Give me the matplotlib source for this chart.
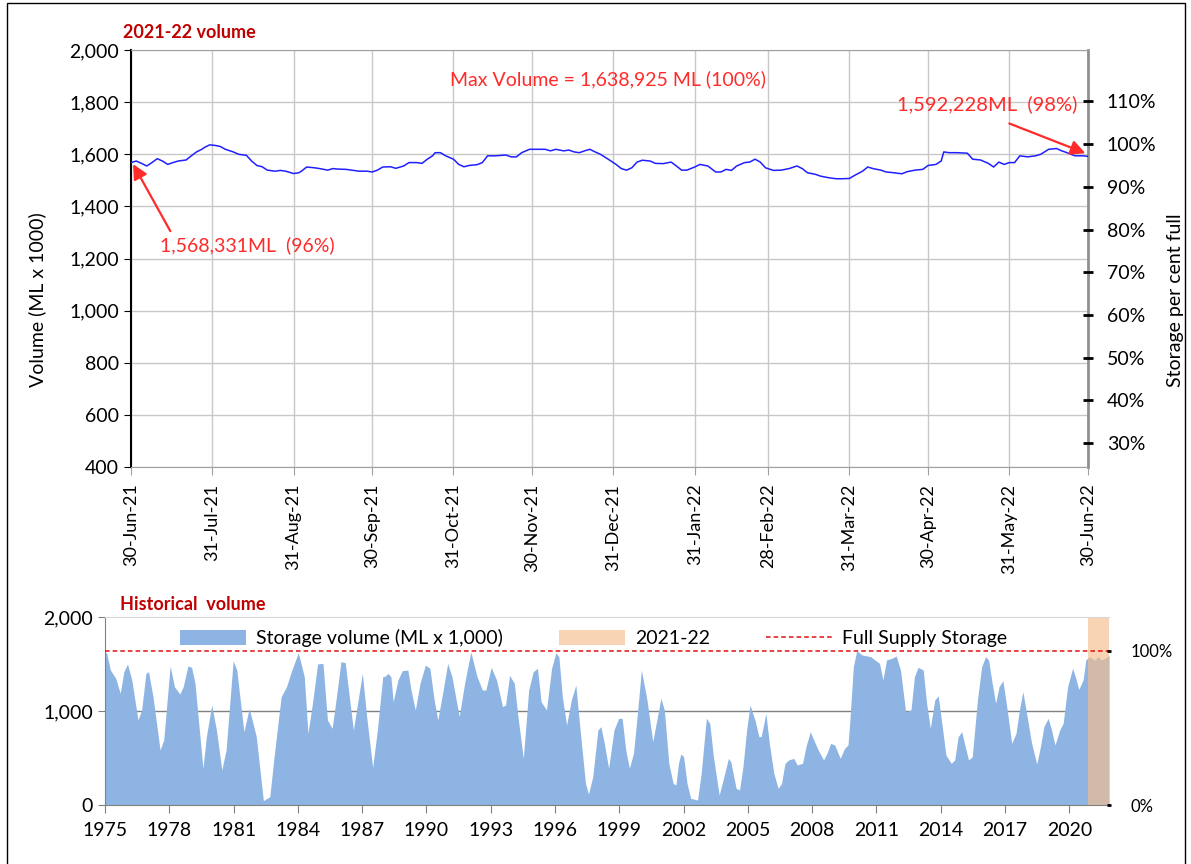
import numpy as np
import pandas as pd
import matplotlib
matplotlib.use('Agg')
import matplotlib.pyplot as plt
from matplotlib.patches import Patch, Rectangle
from matplotlib.lines import Line2D
from matplotlib.ticker import FuncFormatter

plt.rcParams['font.family'] = ['Lato', 'DejaVu Sans']

full_supply = 1638.925  # ML x 1000

# 2021-22 volume, days after 30-Jun-21 (ML x 1000)
day_offset = [0, 2, 4, 6, 8, 10, 12, 14, 16, 18, 21, 23, 25, 27, 28, 30, 32, 34, 36, 39,
              41, 44, 46, 48, 50, 52, 55, 57, 59, 62, 64, 65, 67, 70, 72, 75, 77, 79, 82, 85,
              87, 90, 92, 94, 96, 99, 101, 104, 106, 109, 111, 113, 115, 116, 118, 120, 123, 125, 127, 129,
              132, 134, 136, 139, 143, 145, 147, 149, 152, 155, 158, 160, 162, 165, 167, 169, 171, 173, 175, 177,
              179, 182, 185, 187, 189, 191, 193, 195, 198, 200, 203, 206, 208, 210, 212, 215, 217, 220, 223, 225,
              227, 229, 231, 234, 236, 238, 240, 242, 245, 248, 251, 254, 256, 258, 261, 263, 266, 269, 271, 274,
              276, 279, 281, 283, 286, 288, 291, 294, 296, 299, 302, 304, 307, 309, 310, 312, 315, 319, 321, 324,
              327, 329, 331, 333, 335, 337, 339, 342, 345, 347, 350, 353, 355, 357, 360, 363, 365]
volume_2122 = [1568, 1574, 1565, 1555, 1568, 1583, 1574, 1561, 1568, 1574, 1578, 1594, 1609, 1619, 1626, 1636, 1634, 1630, 1619, 1609,
               1600, 1596, 1574, 1557, 1552, 1539, 1535, 1538, 1535, 1526, 1529, 1535, 1551, 1548, 1545, 1539, 1545, 1543, 1542, 1538,
               1535, 1535, 1532, 1539, 1551, 1552, 1546, 1555, 1568, 1568, 1565, 1581, 1594, 1606, 1606, 1594, 1581, 1561, 1552, 1557,
               1560, 1568, 1594, 1594, 1597, 1590, 1590, 1606, 1619, 1619, 1619, 1613, 1619, 1613, 1616, 1609, 1606, 1613, 1619, 1609,
               1600, 1581, 1561, 1545, 1539, 1548, 1570, 1577, 1574, 1565, 1564, 1570, 1555, 1539, 1539, 1551, 1561, 1555, 1532, 1532,
               1542, 1538, 1555, 1568, 1570, 1581, 1570, 1548, 1538, 1539, 1545, 1555, 1545, 1529, 1523, 1516, 1510, 1506, 1506, 1507,
               1519, 1535, 1551, 1545, 1539, 1532, 1529, 1525, 1533, 1539, 1542, 1557, 1561, 1574, 1609, 1606, 1606, 1604, 1581, 1578,
               1565, 1551, 1570, 1561, 1568, 1568, 1594, 1590, 1594, 1600, 1619, 1622, 1613, 1606, 1594, 1594, 1592]

top_tick_dates = ['2021-06-30', '2021-07-31', '2021-08-31', '2021-09-30', '2021-10-31', '2021-11-30',
                  '2021-12-31', '2022-01-31', '2022-02-28', '2022-03-31', '2022-04-30', '2022-05-31', '2022-06-30']

# historical storage volume (decimal year, ML x 1000)
hist_year = [1975.65, 1975.73, 1975.90, 1976.15, 1976.36, 1976.53, 1976.70, 1976.90, 1977.19, 1977.36,
             1977.56, 1977.68, 1977.89, 1978.22, 1978.39, 1978.69, 1978.89, 1979.14, 1979.30, 1979.52,
             1979.69, 1979.85, 1980.22, 1980.38, 1980.63, 1980.85, 1981.10, 1981.30, 1981.63, 1981.80,
             1982.13, 1982.38, 1982.71, 1983.04, 1983.34, 1983.54, 1983.87, 1984.12, 1984.37, 1984.67,
             1984.95, 1985.12, 1985.33, 1985.57, 1985.82, 1986.03, 1986.25, 1986.45, 1986.66, 1986.86,
             1987.03, 1987.24, 1987.66, 1987.86, 1988.14, 1988.36, 1988.61, 1988.74, 1988.85, 1988.99,
             1989.10, 1989.32, 1989.52, 1989.78, 1989.93, 1990.13, 1990.35, 1990.60, 1990.81, 1991.01,
             1991.18, 1991.43, 1991.64, 1991.84, 1992.18, 1992.43, 1992.72, 1993.01, 1993.26, 1993.42,
             1993.67, 1993.92, 1994.20, 1994.34, 1994.53, 1994.75, 1994.92, 1995.17, 1995.42, 1995.63,
             1995.83, 1996.00, 1996.25, 1996.49, 1996.69, 1996.83, 1996.99, 1997.19, 1997.41, 1997.62,
             1997.82, 1998.07, 1998.21, 1998.41, 1998.65, 1998.79, 1998.95, 1999.15, 1999.40, 1999.62,
             1999.78, 1999.95, 2000.12, 2000.31, 2000.48, 2000.68, 2000.94, 2001.21, 2001.43, 2001.59,
             2001.75, 2001.96, 2002.16, 2002.29, 2002.41, 2002.52, 2002.65, 2002.81, 2002.98, 2003.30,
             2003.47, 2003.71, 2003.87, 2004.04, 2004.31, 2004.53, 2004.74, 2004.85, 2005.10, 2005.26,
             2005.42, 2005.59, 2005.75, 2006.00, 2006.16, 2006.27, 2006.49, 2006.65, 2006.86, 2007.06,
             2007.22, 2007.38, 2007.55, 2007.79, 2007.95, 2008.20, 2008.36, 2008.56, 2008.69, 2008.93,
             2009.18, 2009.34, 2009.51, 2009.70, 2009.96, 2010.16, 2010.32, 2010.40, 2010.57, 2010.73,
             2010.97, 2011.38, 2011.79, 2011.95, 2012.12, 2012.36, 2012.57, 2012.77, 2013.01, 2013.26,
             2013.42, 2013.59, 2013.83, 2013.99, 2014.16, 2014.37, 2014.53, 2014.70, 2014.89, 2015.14,
             2015.30, 2015.46, 2015.63, 2015.79, 2015.95, 2016.12, 2016.36, 2016.56, 2016.74, 2016.88,
             2017.05, 2017.21, 2017.37, 2017.55, 2017.75, 2017.96, 2018.16, 2018.32, 2018.48, 2018.68,
             2018.89, 2019.13, 2019.30, 2019.46, 2019.66, 2019.82, 2019.98, 2020.20, 2020.36, 2020.57,
             2020.80, 2020.93, 2021.09, 2021.29, 2021.42, 2021.58, 2021.83, 2021.99, 2022.15, 2022.32,
             2022.50]
hist_volume = [1630, 1613, 1436, 1348, 1188, 1418, 1500, 1330, 904, 1011,
               1401, 1418, 1152, 585, 691, 1479, 1259, 1181, 1259, 1479,
               1465, 1294, 390, 727, 1064, 798, 372, 585, 1535, 1436,
               780, 1028, 727, 46, 89, 514, 1152, 1259, 1436, 1620,
               1365, 762, 1082, 1500, 1507, 904, 816, 1152, 1525, 1514,
               1188, 798, 1401, 940, 401, 798, 1365, 1372, 1401, 1365,
               1099, 1330, 1429, 1436, 1223, 1011, 1294, 1489, 1454, 1117,
               904, 1223, 1507, 1365, 940, 1294, 1628, 1365, 1223, 1223,
               1465, 1330, 1046, 1064, 1379, 1294, 940, 496, 1223, 1418,
               1454, 1099, 1011, 1454, 1620, 1578, 1152, 851, 1117, 1277,
               798, 230, 117, 301, 798, 833, 656, 390, 798, 922,
               922, 585, 390, 550, 940, 1436, 1117, 674, 940, 1135,
               1011, 443, 230, 213, 443, 543, 514, 230, 71, 53,
               337, 922, 869, 514, 106, 301, 496, 461, 177, 160,
               408, 798, 1064, 887, 727, 727, 975, 656, 337, 177,
               230, 443, 479, 496, 426, 443, 621, 780, 709, 585,
               479, 550, 656, 638, 496, 603, 638, 869, 1472, 1642,
               1596, 1578, 1507, 1330, 1543, 1560, 1585, 1436, 993, 1011,
               1365, 1465, 1436, 1082, 816, 1117, 1160, 869, 532, 443,
               479, 727, 780, 621, 479, 514, 1117, 1472, 1578, 1543,
               1294, 1082, 1259, 1323, 1011, 656, 762, 1011, 1206, 940,
               656, 436, 621, 833, 922, 798, 638, 798, 869, 1259,
               1454, 1365, 1230, 1330, 1543, 1578, 1543, 1578, 1543, 1560,
               1592]

year_labels = list(range(1975, 2021, 3))

red = '#FF2A2A'
dark_red = '#C00000'

fig = plt.figure(figsize=(11.91, 8.64), dpi=100)

# ---------------- top panel ----------------
ax = fig.add_axes([131 / 1191, 1 - 467 / 864, 957 / 1191, 417 / 864])
start = pd.Timestamp('2021-06-30')
dates = start + pd.to_timedelta(day_offset, unit='D')
ax.plot(dates, volume_2122, color='#1F1FFF', lw=1.1, zorder=3)

ticks = pd.to_datetime(top_tick_dates)
ax.set_xticks(ticks)
ax.set_xticklabels([d.strftime('%d-%b-%y') for d in ticks], rotation=90, fontsize=13)
ax.set_xlim(ticks[0], ticks[-1])
ax.set_ylim(400, 2000)
ax.set_yticks(range(400, 2001, 200))
ax.yaxis.set_major_formatter(FuncFormatter(lambda v, p: f'{v:,.0f}'))
ax.tick_params(axis='y', labelsize=14, length=5, color='black')
ax.tick_params(axis='x', length=6, color='#A0A0A0', pad=6)
ax.grid(True, color='#C8C8C8', lw=1)
ax.set_axisbelow(True)
for s in ['top', 'bottom']:
    ax.spines[s].set_color('#A0A0A0')
ax.spines['left'].set_color('black')
ax.spines['left'].set_linewidth(1.5)
ax.spines['right'].set_color('#909090')
ax.spines['right'].set_linewidth(2)

ax2 = ax.twinx()
ax2.set_ylim(400 / full_supply * 100, 2000 / full_supply * 100)
ax2.set_yticks(range(30, 111, 10))
ax2.yaxis.set_major_formatter(FuncFormatter(lambda v, p: f'{v:.0f}%'))
ax2.tick_params(axis='y', labelsize=14, length=7, width=2, direction='inout', color='black', pad=10)
for s in ax2.spines.values():
    s.set_visible(False)

ax.text(start + pd.Timedelta(days=182), 1888, 'Max Volume = 1,638,925 ML (100%)',
        color=red, fontsize=14, ha='center', va='center')
ax.text(start + pd.Timedelta(days=11), 1250, '1,568,331ML  (96%)',
        color=red, fontsize=14, ha='left', va='center')
ax.text(start + pd.Timedelta(days=361), 1792, '1,592,228ML  (98%)',
        color=red, fontsize=14.5, ha='right', va='center')
arrow = dict(arrowstyle='-|>', color=red, lw=1.6, mutation_scale=22, shrinkA=0, shrinkB=0)
ax.annotate('', xy=(start + pd.Timedelta(days=0.8), 1562),
            xytext=(start + pd.Timedelta(days=15), 1305), arrowprops=arrow)
ax.annotate('', xy=(start + pd.Timedelta(days=364), 1604),
            xytext=(start + pd.Timedelta(days=335), 1718), arrowprops=arrow)

fig.text(123 / 1191, 1 - 32 / 864, '2021-22 volume', color=dark_red, fontsize=13,
         fontweight='bold', ha='left', va='center')
fig.text(37 / 1191, 1 - 300 / 864, 'Volume (ML x 1000)', rotation=90, fontsize=14,
         ha='center', va='center')
fig.text(1175 / 1191, 1 - 300 / 864, 'Storage per cent full', rotation=90, fontsize=14,
         ha='center', va='center')

# ---------------- bottom panel ----------------
bx = fig.add_axes([105 / 1191, 1 - 805 / 864, 1004 / 1191, 188 / 864])
bx.axhline(1000, color='#808080', lw=1, zorder=0.5)
bx.fill_between(hist_year, 0, hist_volume, color='#8DB4E2', lw=0, zorder=1)
bx.axvspan(2021.5, 2022.5, color='#F7BE8C', alpha=0.65, lw=0, zorder=2)
bx.axhline(full_supply, color='#E01010', lw=1.1, ls=(0, (3, 2)), zorder=3)

bx.set_xlim(1975.65, 2022.5)
bx.set_ylim(0, 2000)
bx.set_xticks([y + 0.65 for y in year_labels])
bx.set_xticklabels([str(y) for y in year_labels], fontsize=14)
bx.set_yticks([0, 1000, 2000])
bx.yaxis.set_major_formatter(FuncFormatter(lambda v, p: f'{v:,.0f}'))
bx.tick_params(axis='y', labelsize=14, length=5, color='#808080')
bx.tick_params(axis='x', length=6, color='#808080', pad=6)
bx.spines['top'].set_color('#D9D9D9')
bx.spines['right'].set_visible(False)
bx.spines['left'].set_color('#808080')
bx.spines['bottom'].set_color('#808080')

bx2 = bx.twinx()
bx2.set_ylim(0, 2000 / full_supply * 100)
bx2.set_yticks([0, 100])
bx2.yaxis.set_major_formatter(FuncFormatter(lambda v, p: f'{v:.0f}%'))
bx2.tick_params(axis='y', labelsize=12, length=3, width=2, direction='inout', color='black', pad=14)
for s in bx2.spines.values():
    s.set_visible(False)

handles = [Patch(facecolor='#8DB4E2', edgecolor='none'),
           Patch(facecolor='#F7BE8C', alpha=0.65, edgecolor='none'),
           Line2D([0], [0], color='#E01010', lw=1.1, ls=(0, (3, 2)))]
bx.legend(handles, ['Storage volume (ML x 1,000)', '2021-22', 'Full Supply Storage'],
          loc='upper left', bbox_to_anchor=(0.057, 1.03), ncol=3, frameon=False,
          fontsize=14, handlelength=3.4, handletextpad=0.5, columnspacing=2.9, handleheight=0.8)

fig.text(120 / 1191, 1 - 605 / 864, 'Historical  volume', color=dark_red, fontsize=13,
         fontweight='bold', ha='left', va='center')

fig.patches.append(Rectangle((0.006, -0.01), 0.989, 1.006, transform=fig.transFigure,
                             fill=False, ec='black', lw=1))

fig.savefig('out.png', dpi=100)
